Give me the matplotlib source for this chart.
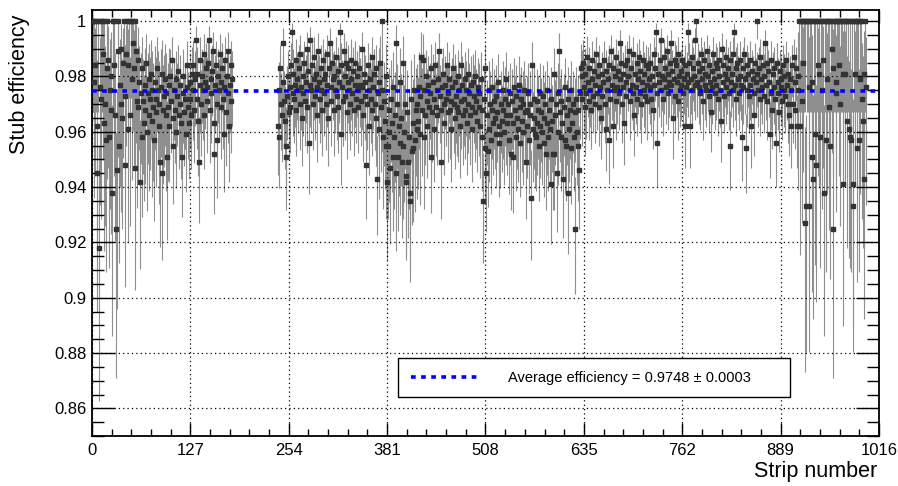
import numpy as np
import matplotlib
matplotlib.use("Agg")
import matplotlib.pyplot as plt
from matplotlib.ticker import MultipleLocator, FuncFormatter

plt.rcParams['font.family'] = ['Liberation Sans', 'DejaVu Sans']

# ==========================
# data (efficiency per strip, in 1/1000)
# ==========================
left_first_strip = 0
eff_left = [
    1000, 1000, 978, 1000, 984, 1000, 962, 945, 1000, 918, 976, 1000, 972, 1000, 988, 963, 1000, 970, 957, 983,
    1000, 986, 958, 975, 968, 980, 938, 1000, 984, 1000, 966, 925, 946, 1000, 989, 955, 977, 970, 990, 965,
    985, 1000, 973, 948, 988, 1000, 961, 984, 1000, 966, 1000, 979, 1000, 992, 983, 947, 1000, 989, 971, 986,
    969, 978, 942, 974, 958, 983, 971, 963, 977, 968, 985, 960, 974, 979, 966, 972, 981, 964, 975, 969,
    957, 978, 972, 967, 983, 975, 962, 970, 949, 976, 981, 945, 968, 973, 979, 966, 974, 951, 969, 977,
    962, 980, 971, 986, 965, 955, 975, 968, 979, 960, 973, 982, 966, 970, 977, 963, 951, 974, 980, 967,
    972, 959, 976, 984, 969, 963, 978, 972, 966, 981, 975, 984, 968, 979, 993, 972, 981, 964, 949, 977,
    986, 970, 980, 975, 988, 966, 978, 983, 971, 976, 985, 993, 968, 979, 974, 982, 989, 963, 952, 977,
    984, 970, 957, 980, 975, 988, 969, 978, 983, 972, 959, 976, 986, 967, 980, 974, 989, 962, 977, 984,
    971, 979,
]

right_first_strip = 240
eff_right = [
    962, 975, 958, 983, 970, 966, 978, 992, 971, 964, 955, 951, 973, 980, 967, 976, 969, 984, 996, 974,
    981, 972, 977, 986, 968, 979, 975, 983, 970, 988, 976, 965, 980, 974, 985, 971, 978, 990, 969, 982,
    956, 977, 993, 975, 984, 970, 979, 987, 973, 981, 966, 976, 989, 978, 972, 983, 975, 968, 986, 979,
    974, 981, 970, 988, 977, 965, 983, 992, 976, 971, 985, 979, 968, 980, 975, 987, 973, 982, 969, 978,
    996, 959, 984, 976, 971, 989, 980, 973, 985, 967, 978, 983, 975, 970, 986, 979, 974, 982, 968, 977,
    985, 972, 980, 975, 969, 983, 977, 971, 990, 976, 966, 981, 973, 978, 948, 970, 984, 975, 962, 979,
    972, 987, 968, 976, 981, 970, 965, 983, 943, 974, 978, 961, 985, 969, 975, 1000, 958, 971, 964, 980,
    955, 942, 955, 968, 960, 947, 972, 963, 951, 976, 958, 966, 992, 945, 970, 951, 962, 978, 956, 965,
    949, 955, 985, 960, 970, 942, 944, 967, 949, 958, 938, 935, 972, 953, 954, 963, 975, 957, 968, 961,
    970, 964, 976, 959, 973, 987, 968, 986, 958, 975, 966, 980, 971, 962, 977, 969, 974, 983, 951, 967,
    978, 972, 961, 984, 969, 975, 966, 979, 989, 973, 968, 949, 976, 981, 970, 963, 977, 972, 984, 967,
    974, 979, 968, 971, 961, 976, 983, 970, 965, 978, 973, 969, 980, 967, 975, 962, 971, 984, 977, 966,
    972, 979, 968, 975, 963, 981, 970, 974, 966, 977, 961, 969, 978, 973, 967, 980, 971, 964, 976, 969,
    974, 962, 979, 968, 958, 935, 972, 983, 954, 945, 966, 953, 975, 961, 970, 957, 968, 976, 963, 971,
    965, 959, 973, 967, 978, 962, 956, 959, 970, 964, 975, 968, 960, 972, 966, 979, 963, 970, 957, 974,
    966, 952, 971, 951, 963, 976, 968, 958, 973, 965, 961, 977, 969, 956, 972, 964, 970, 960, 975, 967,
    949, 968, 962, 974, 957, 970, 966, 936, 984, 961, 972, 965, 959, 958, 971, 963, 968, 955, 974, 962,
    967, 960, 973, 965, 956, 970, 952, 963, 975, 958, 968, 961, 941, 972, 964, 952, 981, 952, 966, 970,
    945, 974, 960, 989, 967, 958, 971, 963, 943, 969, 976, 957, 955, 966, 938, 972, 961, 968, 954, 975,
    963, 970, 958, 925, 967, 972, 960, 955, 968, 946, 974, 983, 980, 972, 985, 976, 969, 981, 974, 987,
    978, 971, 983, 975, 968, 986, 979, 973, 982, 970, 977, 988, 974, 980, 969, 984, 976, 965, 981, 973,
    978, 986, 970, 961, 982, 975, 979, 957, 984, 972, 989, 977, 962, 983, 975, 980, 971, 987, 976, 982,
    974, 992, 979, 985, 970, 981, 976, 963, 984, 978, 973, 986, 980, 989, 975, 971, 983, 977, 988, 974,
    966, 981, 976, 985, 972, 979, 987, 974, 982, 970, 978, 986, 975, 981, 973, 984, 977, 971, 983, 979,
    976, 985, 972, 980, 968, 988, 977, 983, 996, 974, 956, 981, 978, 986, 993, 975, 980, 972, 987, 979,
    983, 976, 989, 974, 981, 978, 985, 992, 977, 982, 965, 979, 986, 973, 984, 978, 971, 988, 980, 975,
    982, 977, 986, 974, 979, 962, 984, 976, 981, 996, 978, 985, 962, 979, 987, 975, 983, 980, 977, 993,
    1000, 978, 985, 976, 982, 974, 988, 979, 983, 971, 986, 977, 981, 975, 989, 980, 973, 984, 978, 967,
    982, 976, 988, 979, 974, 985, 977, 983, 972, 986, 980, 975, 964, 990, 978, 984, 973, 981, 976, 987,
    979, 983, 974, 955, 986, 978, 981, 975, 988, 996, 977, 983, 972, 985, 979, 974, 986, 980, 977, 958,
    983, 976, 988, 979, 954, 984, 975, 981, 973, 986, 977, 962, 982, 979, 974, 966, 985, 978, 1000, 981,
    975, 983, 972, 987, 979, 976, 984, 973, 980, 992, 977, 985, 971, 982, 978, 959, 986, 974, 968, 981,
    976, 983, 972, 956, 985, 978, 974, 967, 982, 976, 979, 971, 984, 975, 980, 973, 986, 977, 970, 981,
    966, 979, 962, 975, 984, 970, 987, 978, 968, 983, 962, 975, 980, 1000, 962, 1000, 971, 1000, 985, 1000,
    927, 1000, 933, 1000, 1000, 976, 933, 1000, 1000, 978, 951, 943, 1000, 1000, 959, 948, 1000, 984, 1000, 981,
    958, 1000, 975, 1000, 986, 938, 1000, 957, 1000, 979, 1000, 969, 1000, 955, 1000, 990, 983, 925, 1000, 1000,
    974, 978, 1000, 1000, 984, 1000, 970, 1000, 1000, 981, 941, 1000, 981, 1000, 1000, 964, 1000, 961, 1000, 958,
    957, 1000, 933, 941, 1000, 981, 1000, 954, 1000, 1000, 957, 1000, 979, 1000, 972, 964, 981, 943, 1000, 976,
]

# events per strip range (sets the error bars)
seg_start = [0, 35, 60, 100, 240, 370, 430, 640, 912, 960]
seg_events = [55, 65, 110, 180, 220, 130, 200, 280, 55, 55]

avg_eff = 0.9748
avg_err = 0.0003

strips = np.concatenate([left_first_strip + np.arange(len(eff_left)),
                         right_first_strip + np.arange(len(eff_right))])
eff = np.array(eff_left + eff_right) / 1000.0
n_ev = np.array(seg_events, dtype=float)[np.searchsorted(seg_start, strips, side='right') - 1]


# Clopper-Pearson interval (68.3% CL), like ROOT's TEfficiency
def clopper_pearson(p, n, cl=0.6827):
    alpha = (1 - cl) / 2
    t = np.linspace(0.55, 1.0, 9001)[1:-1]
    lo = np.empty_like(p)
    hi = np.empty_like(p)

    def quantile(a, b, q):
        lp = (a - 1) * np.log(t) + (b - 1) * np.log1p(-t)
        c = np.cumsum(np.exp(lp - lp.max()))
        c /= c[-1]
        return np.interp(q, c, t)

    for i, (pp, nn) in enumerate(zip(p, n)):
        k = pp * nn
        lo[i] = quantile(k, nn - k + 1, alpha)
        hi[i] = 1.0 if nn - k < 1e-6 else quantile(k + 1, nn - k, 1 - alpha)
    return lo, hi


lo, hi = clopper_pearson(eff, n_ev)

# ==========================
# plot
# ==========================
fig = plt.figure(figsize=(8.98, 4.86), dpi=100)
ax = fig.add_axes([92 / 898, 1 - 436 / 486, 787 / 898, 426 / 486])

ax.errorbar(strips, eff, yerr=[eff - lo, hi - eff], fmt='none',
            ecolor='#8f8f8f', elinewidth=0.8, capsize=0, zorder=2)
ax.plot(strips, eff, 's', ms=3.0, color='#333333', mec='#333333', zorder=3)
ax.axhline(avg_eff, color='#0000ff', lw=2.6, ls=(0, (1.3, 1.5)), zorder=4,
           label=f"Average efficiency = {avg_eff:.4f} \u00b1 {avg_err:.4f}")

ax.set_xlim(0, 1016)
ax.set_ylim(0.85, 1.004)
ax.xaxis.set_major_locator(MultipleLocator(127))
ax.xaxis.set_minor_locator(MultipleLocator(25.4))
ax.yaxis.set_major_locator(MultipleLocator(0.02))
ax.yaxis.set_minor_locator(MultipleLocator(0.005))
ax.yaxis.set_major_formatter(FuncFormatter(lambda v, _: f"{round(v, 3):g}"))

ax.tick_params(which='both', direction='in', top=True, right=True, width=1.0, labelsize=12)
ax.tick_params(axis='x', which='major', length=9.4, pad=5)
ax.tick_params(axis='x', which='minor', length=4.7)
ax.tick_params(axis='y', which='major', length=16.5, pad=4)
ax.tick_params(axis='y', which='minor', length=8.3)
for s in ax.spines.values():
    s.set_linewidth(1.3)

ax.grid(True, which='major', color='black', ls=(0, (1, 2.5)), lw=0.9)
ax.set_axisbelow(False)

ax.set_xlabel("Strip number", loc='right', fontsize=15.5)
ax.set_ylabel("Stub efficiency", loc='top', fontsize=15.5)
ax.xaxis.set_label_coords(0.9975, -0.059)
ax.yaxis.set_label_coords(-0.079, 0.99)

leg = ax.legend(loc='lower left', bbox_to_anchor=(0.389, 0.0915, 0.498, 0.0985),
                mode='expand', borderaxespad=0, fancybox=False, edgecolor='black',
                framealpha=1, handlelength=4.6, handletextpad=2.1, fontsize=10.5,
                borderpad=0.85)
leg.get_frame().set_linewidth(1.0)

fig.savefig("out.png", dpi=100)
